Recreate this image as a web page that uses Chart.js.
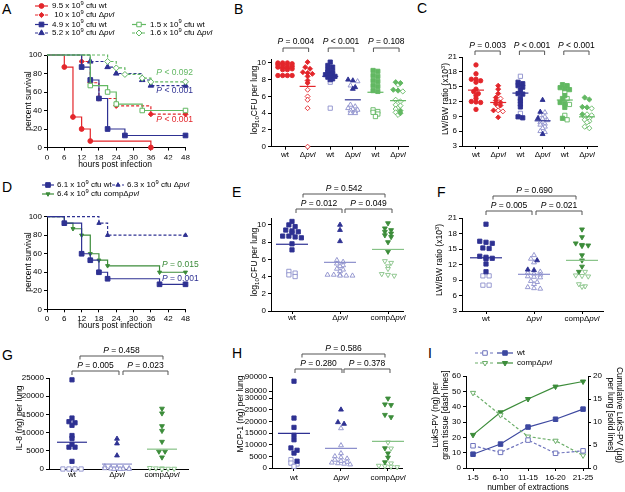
<!DOCTYPE html>
<html><head><meta charset="utf-8">
<script src="https://cdn.jsdelivr.net/npm/chart.js@4"></script>
<style>
body{margin:0;width:625px;height:492px;background:#fff;position:relative;overflow:hidden;font-family:'Liberation Sans',Arial,sans-serif}
canvas{position:absolute;left:0;top:0}
.lbl{position:absolute;font-size:14px;line-height:14px;color:#000}
</style></head><body>
<div class="lbl" style="left:2px;top:2px">A</div>
<div class="lbl" style="left:234px;top:2px">B</div>
<div class="lbl" style="left:417px;top:1px">C</div>
<div class="lbl" style="left:2px;top:180px">D</div>
<div class="lbl" style="left:232px;top:185px">E</div>
<div class="lbl" style="left:437px;top:185px">F</div>
<div class="lbl" style="left:2px;top:348px">G</div>
<div class="lbl" style="left:232px;top:346px">H</div>
<div class="lbl" style="left:428px;top:346px">I</div>
<canvas id="cA" width="625" height="492"></canvas>
<canvas id="cB" width="625" height="492"></canvas>
<canvas id="cC" width="625" height="492"></canvas>
<canvas id="cD" width="625" height="492"></canvas>
<canvas id="cE" width="625" height="492"></canvas>
<canvas id="cF" width="625" height="492"></canvas>
<canvas id="cG" width="625" height="492"></canvas>
<canvas id="cH" width="625" height="492"></canvas>
<canvas id="cI" width="625" height="492"></canvas>
<script>
// ---------------- DATA ----------------
// Panel A: Kaplan-Meier (hours, percent survival)
const A_wt95_t = [0, 6, 9, 12, 15, 36];
const A_wt95_s = [100, 87, 33, 20, 7, 0];
const A_pvl10_t = [0, 12, 15, 18, 24, 36, 48];
const A_pvl10_s = [100, 93, 70, 53, 45, 36, 36];
const A_wt49_t = [0, 12, 15, 18, 21, 27, 48];
const A_wt49_s = [100, 87, 73, 53, 20, 13, 13];
const A_pvl52_t = [0, 15, 21, 24, 33, 36, 48];
const A_pvl52_s = [100, 93, 87, 80, 73, 67, 67];
const A_wt15_t = [0, 15, 21, 24, 33, 48];
const A_wt15_s = [100, 67, 60, 47, 40, 40];
const A_pvl16_t = [0, 21, 24, 27, 33, 36, 48];
const A_pvl16_s = [100, 93, 86, 79, 75, 71, 71];
const A_legend = ["9.5 x 10^{9} cfu wt", " 10 x 10^{9} cfu Δ*pvl*", "4.9 x 10^{9} cfu wt", "5.2 x 10^{9} cfu Δ*pvl*", "1.5 x 10^{9} cfu wt", "1.6 x 10^{9} cfu Δ*pvl*"];
const A_pvals = ["*P* < 0.092", "*P* < 0.001", "*P* < 0.001"];

// Panel B: log10 CFU per lung
const B_cats = ["wt", "Δ*pvl*", "wt", "Δ*pvl*", "wt", "Δ*pvl*"];
const B_red_wt = [10.0, 10.0, 10.0, 9.9, 9.8, 9.8, 9.7, 9.6, 9.5, 9.5, 9.4, 9.3, 9.2, 9.2, 8.5, 8.5, 8.5, 8.5];
const B_red_pvl = [10.1, 9.5, 9.3, 8.9, 8.8, 8.7, 8.4, 7.9, 7.6];
const B_red_pvl_open = [6.8, 6.0, 5.6, 4.6, 0.0];
const B_blue_wt = [10.1, 9.7, 9.5, 9.2, 9.0, 8.9, 8.7, 8.6, 8.5, 8.4, 8.3, 8.1, 8.0];
const B_blue_wt_open = [7.7, 4.6];
const B_blue_pvl = [8.0, 7.9, 7.1, 6.9];
const B_blue_pvl_open = [7.8, 7.3, 5.0, 4.8, 4.6, 4.5, 4.4, 4.3, 4.2, 4.0, 4.0];
const B_green_wt = [9.1, 9.0, 8.5, 8.4, 7.9, 7.8, 7.3, 7.2, 6.7, 6.6];
const B_green_wt_open = [4.4, 4.2, 4.1, 3.9, 3.6];
const B_green_pvl = [7.7, 7.6, 6.8, 6.7, 4.3, 4.0];
const B_green_pvl_open = [7.4, 6.6, 5.6, 5.4, 5.0, 4.9, 4.5, 4.1, 3.8];
const B_means = [9.4, 7.2, 8.4, 5.6, 6.5, 5.5];
const B_pvals = ["*P* = 0.004", "*P* < 0.001", "*P* = 0.108"];

// Panel C: LW/BW ratio
const C_red_wt = [19.4, 17.6, 16.5, 16.5, 16.2, 15.9, 14.5, 14.0, 13.6, 13.2, 12.6, 12.0, 11.8, 11.9, 10.4];
const C_red_pvl = [15.2, 14.5, 13.6, 12.8, 12.2, 11.8, 11.5, 11.2, 10.2, 8.8];
const C_red_pvl_open = [12.6, 11.0, 10.2, 10.0];
const C_blue_wt = [15.9, 15.6, 15.2, 14.9, 14.3, 13.6, 13.5, 12.6, 12.1, 11.5, 10.9, 8.9, 8.7];
const C_blue_wt_open = [17.1, 9.6];
const C_blue_pvl = [12.3, 9.9, 8.6, 5.4];
const C_blue_pvl_open = [9.8, 9.2, 8.9, 8.5, 8.2, 7.8, 7.5, 7.3, 6.9, 6.6, 6.0, 5.8];
const C_green_wt = [15.4, 15.2, 14.8, 14.6, 14.4, 13.2, 12.6, 11.8, 11.6, 10.8, 8.6];
const C_green_wt_open = [14.0, 12.6, 11.4, 9.2, 8.3];
const C_green_pvl = [12.8, 12.4, 10.9, 10.8, 9.4];
const C_green_pvl_open = [10.6, 9.4, 9.2, 8.9, 8.6, 8.3, 8.0, 7.8, 6.9, 6.6];
const C_means = [14.3, 11.8, 13.7, 8.1, 12.3, 8.9];
const C_pvals = ["*P* = 0.003", "*P* < 0.001", "*P* < 0.001"];

// Panel D: Kaplan-Meier
const D_wt_t = [0, 6, 12, 15, 18, 21, 39, 48];
const D_wt_s = [100, 93, 60, 53, 40, 33, 27, 27];
const D_pvl_t = [0, 18, 21, 48];
const D_pvl_s = [100, 93, 80, 80];
const D_comp_t = [0, 6, 9, 12, 15, 18, 21, 39, 48];
const D_comp_s = [100, 93, 87, 80, 60, 53, 47, 40, 40];
const D_legend = ["6.1 x 10^{9} cfu wt", "6.3 x 10^{9} cfu Δ*pvl*", "6.4 x 10^{9} cfu compΔ*pvl*"];
const D_pvals = ["*P* = 0.015", "*P* = 0.001"];

// Panels E-H: three groups
const EH_cats = ["wt", "Δ*pvl*", "compΔ*pvl*"];
const E_wt = [10.4, 10.0, 9.8, 9.4, 9.3, 9.2, 9.1, 8.7, 8.7, 8.6, 8.5, 7.8, 7.1];
const E_wt_open = [4.6, 4.4, 4.2, 4.0];
const E_pvl = [10.0, 9.4, 8.1];
const E_pvl_open = [5.9, 5.7, 5.5, 5.3, 5.2, 4.9, 4.8, 4.6, 4.2, 4.2, 4.2, 4.1, 4.1, 4.1];
const E_comp = [10.2, 9.6, 9.4, 9.2, 9.0, 8.8, 8.6, 8.0, 6.9];
const E_comp_open = [5.8, 5.6, 5.2, 4.9, 4.3, 4.2, 4.1];
const E_means = [7.75, 5.65, 7.15];
const E_pvals = ["*P* = 0.542", "*P* = 0.012", "*P* = 0.049"];

const F_wt = [19.8, 16.5, 16.3, 16.1, 15.2, 15.1, 13.6, 13.4, 13.2, 13.1, 12.1, 10.6];
const F_wt_open = [9.8, 9.8, 8.0, 8.0];
const F_pvl = [12.8, 11.0, 10.9];
const F_pvl_open = [13.8, 13.1, 12.4, 10.6, 10.4, 10.2, 10.0, 9.7, 9.6, 9.5, 8.8, 8.6, 8.2, 7.6, 7.4, 7.3];
const F_comp = [18.8, 17.3, 16.1, 15.8, 15.7, 15.6, 13.8, 12.8, 11.6, 10.6];
const F_comp_open = [10.6, 9.9, 9.8, 9.7, 8.2, 7.8, 7.7];
const F_means = [13.3, 10.1, 12.8];
const F_pvals = ["*P* = 0.690", "*P* = 0.005", "*P* = 0.021"];

const G_wt = [24500, 14000, 13000, 12700, 12000, 9200, 8400, 6800, 6000, 6000, 2100];
const G_wt_open = [0, 0, 0, 0];
const G_pvl = [8300, 7000, 3700];
const G_pvl_open = [700, 500, 400, 300, 200, 200, 100, 100, 0, 0, 0, 0];
const G_comp = [16600, 15300, 11800, 10500, 7500, 4800, 4800, 3200];
const G_comp_open = [300, 200, 200, 100, 100, 0];
const G_means = [7350, 1350, 5450];
const G_pvals = ["*P* = 0.458", "*P* = 0.005", "*P* = 0.023"];

const H_wt = [87000, 21400, 17400, 14000, 12100, 8600, 7600, 6400, 2900];
const H_wt_open = [3600, 2100, 1700, 700];
const H_pvl = [25000, 19600, 18900];
const H_pvl_open = [17000, 9700, 6300, 5000, 4500, 4000, 3500, 3000, 2600, 2300, 2000, 1800, 1500];
const H_comp = [29800, 27300, 27000, 22800, 21800, 8500, 6300, 4500, 2500];
const H_comp_open = [11000, 8400, 2000, 1000, 800, 600, 400];
const H_means = [14850, 8450, 11400];
const H_pvals = ["*P* = 0.586", "*P* = 0.280", "*P* = 0.378"];
const H_upperTicks = [80000, 90000];

// Panel I
const I_labels = ["1-5", "6-10", "11-15", "16-20", "21-25"];
const I_wt_gram = [14.5, 10.2, 18.2, 9.6, 11.2];
const I_comp_gram = [49, 34.5, 20.5, 17.8, 8.2];
const I_wt_cum = [3.0, 5.2, 8.9, 10.6, 12.8];
const I_comp_cum = [7.2, 12.1, 15.0, 17.7, 18.8];
const I_legend = ["wt", "compΔ*pvl*"];

// ---------------- HELPERS ----------------
const FF = "'Liberation Sans', Arial, Helvetica, sans-serif";
const FT = 8, FL = 8, FTT = 8.5, FP = 8.5, FC = 8;
Chart.defaults.font.family = FF;
Chart.defaults.font.size = FT;
Chart.defaults.color = '#000';
const W = 625, H = 492, YW = 28, XH = 12;
const RED = '#e3262b', BLUE = '#2e3192', LBLUE = '#8c8fcc', GREENL = '#62b862', GREEN = '#3c8c3a', LGREEN = '#86c286';

function fontStr(size, it){ return (it ? 'italic ' : '') + size + 'px ' + FF; }
function parseRich(str){
  const parts = []; let i = 0, buf = '', it = false;
  const flush = () => { if (buf) { parts.push({t: buf, i: it}); buf = ''; } };
  while (i < str.length) {
    const c = str[i];
    if (c === '*') { flush(); it = !it; i++; }
    else if ((c === '_' || c === '^') && str[i+1] === '{') {
      flush(); const j = str.indexOf('}', i);
      parts.push({t: str.slice(i+2, j), i: it, s: c === '_' ? 'sub' : 'sup'}); i = j + 1;
    } else { buf += c; i++; }
  }
  flush(); return parts;
}
function drawRich(ctx, str, x, y, size, color, align, rot){
  const parts = parseRich(str);
  ctx.save(); ctx.translate(x, y); if (rot) ctx.rotate(rot);
  let w = 0;
  parts.forEach(p => { ctx.font = fontStr(p.s ? size*0.72 : size, p.i); w += ctx.measureText(p.t).width; });
  let cx = align === 'center' ? -w/2 : (align === 'right' ? -w : 0);
  ctx.fillStyle = color || '#000'; ctx.textBaseline = 'middle'; ctx.textAlign = 'left';
  parts.forEach(p => {
    const s = p.s ? size*0.72 : size; ctx.font = fontStr(s, p.i);
    const dy = p.s === 'sub' ? size*0.3 : (p.s === 'sup' ? -size*0.35 : 0);
    ctx.fillText(p.t, cx, dy); cx += ctx.measureText(p.t).width;
  });
  ctx.restore();
}
function marker(ctx, style, x, y, r, color, filled, rot){
  ctx.save(); ctx.translate(x, y); if (rot) ctx.rotate(rot*Math.PI/180);
  ctx.beginPath();
  if (style === 'circle') ctx.arc(0, 0, r, 0, Math.PI*2);
  else if (style === 'rect') { const s = r*Math.SQRT1_2; ctx.rect(-s, -s, 2*s, 2*s); }
  else if (style === 'rectRot') { ctx.moveTo(0,-r); ctx.lineTo(r,0); ctx.lineTo(0,r); ctx.lineTo(-r,0); ctx.closePath(); }
  else if (style === 'triangle') { let a = 0; for (let k=0;k<3;k++){ const px=Math.sin(a)*r, py=-Math.cos(a)*r; k?ctx.lineTo(px,py):ctx.moveTo(px,py); a += 2*Math.PI/3; } ctx.closePath(); }
  ctx.setLineDash([]);
  ctx.fillStyle = filled ? color : '#fff'; ctx.fill();
  ctx.strokeStyle = color; ctx.lineWidth = 1; ctx.stroke();
  ctx.restore();
}
function legendItem(ctx, x1, x2, y, color, dash, style, r, filled, rot){
  ctx.save(); ctx.strokeStyle = color; ctx.lineWidth = 1.2; ctx.setLineDash(dash ? [3,2] : []);
  ctx.beginPath(); ctx.moveTo(x1, y); ctx.lineTo(x2, y); ctx.stroke(); ctx.restore();
  marker(ctx, style, (x1+x2)/2, y, r, color, filled, rot);
}
function swarm(values, center, dx, thr, maxRow){
  const idx = values.map((v,i) => i).sort((a,b) => values[b] - values[a]);
  const xs = new Array(values.length);
  let row = [], start = null;
  const flush = () => { row.forEach((k,j) => { xs[k] = center + (j - (row.length-1)/2)*dx; }); row = []; };
  idx.forEach(k => {
    if (start === null || start - values[k] > thr || row.length >= maxRow) { flush(); start = values[k]; }
    row.push(k);
  });
  flush(); return xs;
}
function place(area, rightW){
  return {left: area.l - YW, top: area.t, right: W - area.r - (rightW || 0), bottom: H - area.b - XH};
}
function axisBase(){
  return {border: {color: '#000', width: 1},
    grid: {drawOnChartArea: false, color: '#000', tickLength: 3, lineWidth: 1}};
}
function yLin(min, max, step, extra){
  return Object.assign(axisBase(), {type: 'linear', min, max, position: 'left',
    ticks: {stepSize: step, padding: 2, autoSkip: false, includeBounds: false, font: {size: FT}, callback: v => String(v)},
    afterFit: s => { s.width = YW; }}, extra || {});
}
function xLin(min, max, vals, labelFn){
  return Object.assign(axisBase(), {type: 'linear', min, max,
    afterBuildTicks: s => { s.ticks = vals.map(v => ({value: v})); },
    ticks: {display: !!labelFn, padding: 2, autoSkip: false, maxRotation: 0, font: {size: FT}, callback: labelFn || (v => '')},
    afterFit: s => { s.height = XH; }});
}
function baseOptions(area, scales, rightW){
  return {responsive: false, animation: false, events: [], devicePixelRatio: 1,
    layout: {padding: place(area, rightW)},
    plugins: {legend: {display: false}, tooltip: {enabled: false}, title: {display: false}},
    scales};
}
function kmSet(t, s, color, dash, style, r, filled, rot){
  return {type: 'line', data: t.map((x,i) => ({x, y: s[i]})), borderColor: color, borderWidth: 1.2,
    borderDash: dash ? [3,2] : [], stepped: true, fill: false, clip: false, tension: 0,
    pointStyle: style, pointRadius: t.map((_,i) => i === 0 ? 0 : r), pointRotation: rot || 0,
    pointBackgroundColor: filled ? color : '#fff', pointBorderColor: color, pointBorderWidth: 1};
}
function groupSets(cx, g, sp){
  const vals = g.filled.concat(g.open || []);
  const xs = swarm(vals, cx, sp.dx, sp.thr, sp.maxRow);
  const nF = g.filled.length;
  const mk = (pts, filled, axis) => ({type: 'scatter', data: pts, yAxisID: axis, clip: false,
    pointStyle: filled ? g.style : (g.ostyle || g.style), pointRadius: filled ? g.r : (g.or || g.r),
    pointRotation: g.rot || 0, pointBorderWidth: 0.9,
    pointBackgroundColor: filled ? g.color : '#fff', pointBorderColor: filled ? g.color : (g.ocolor || g.color)});
  const out = [];
  const split = (arr, filled) => {
    const lo = arr.filter(p => !(sp.split && p.y > sp.split));
    const hi = arr.filter(p => sp.split && p.y > sp.split);
    if (lo.length) out.push(mk(lo, filled, 'y'));
    if (hi.length) out.push(mk(hi, filled, 'y2'));
  };
  const pts = vals.map((v,i) => ({x: xs[i], y: v}));
  split(pts.slice(0, nF), true);
  split(pts.slice(nF), false);
  return out;
}
function drawBracket(ctx, xs, b){
  const x1 = xs.getPixelForValue(b.a) + b.da, x2 = xs.getPixelForValue(b.b) + b.db;
  ctx.save(); ctx.strokeStyle = '#555'; ctx.lineWidth = 1; ctx.setLineDash([]);
  ctx.beginPath(); ctx.moveTo(x1, b.tip); ctx.lineTo(x1, b.y); ctx.lineTo(x2, b.y); ctx.lineTo(x2, b.tip); ctx.stroke();
  ctx.restore();
  drawRich(ctx, b.text, (x1+x2)/2, b.ty, FP, '#000', 'center');
}
function makeDot(sp){
  const datasets = [];
  sp.groups.forEach((g,i) => datasets.push(...groupSets(i, g, sp)));
  const scales = {x: xLin(sp.xr[0], sp.xr[1], sp.groups.map((_,i) => i)), y: sp.y};
  if (sp.y2) scales.y2 = sp.y2;
  new Chart(document.getElementById(sp.id), {type: 'scatter', data: {datasets},
    options: baseOptions(sp.area, scales),
    plugins: [{id: 'deco', afterDraw(c){
      const ctx = c.ctx, xs = c.scales.x, ys = c.scales.y;
      sp.groups.forEach((g,i) => {
        const cx = xs.getPixelForValue(i), y = ys.getPixelForValue(sp.means[i]);
        ctx.save(); ctx.strokeStyle = g.mcolor || g.color; ctx.lineWidth = 1.2;
        ctx.beginPath(); ctx.moveTo(cx - sp.mhw, y); ctx.lineTo(cx + sp.mhw, y); ctx.stroke(); ctx.restore();
        drawRich(ctx, sp.cats[i], cx, sp.catY, FC, '#000', 'center');
      });
      sp.brackets.forEach(b => drawBracket(ctx, xs, b));
      drawRich(ctx, sp.yTitle, sp.yTitleX, sp.yTitleY, FTT, '#000', 'center', -Math.PI/2);
    }}]});
}

// ---------------- PANEL A ----------------
(function(){
  const area = {l: 47, t: 55, r: 185.5, b: 147.5};
  const ds = [
    kmSet(A_wt15_t, A_wt15_s, GREENL, false, 'rect', 3.2, false),
    kmSet(A_pvl16_t, A_pvl16_s, GREENL, true, 'rectRot', 3, false),
    kmSet(A_wt49_t, A_wt49_s, BLUE, false, 'rect', 3.3, true),
    kmSet(A_pvl52_t, A_pvl52_s, BLUE, true, 'triangle', 3.2, true),
    kmSet(A_pvl10_t, A_pvl10_s, RED, true, 'rectRot', 2.6, true),
    kmSet(A_wt95_t, A_wt95_s, RED, false, 'circle', 2.4, true)
  ];
  const scales = {x: xLin(0, 48, [0,6,12,18,24,30,36,42,48], v => String(v)), y: yLin(0, 100, 20)};
  new Chart(document.getElementById('cA'), {type: 'line', data: {datasets: ds}, options: baseOptions(area, scales),
    plugins: [{id: 'deco', afterDraw(c){
      const ctx = c.ctx;
      const L = [[35,48,6,RED,false,'circle',2.4,true,0],[35,48,15,RED,true,'rectRot',2.6,true,0],
                 [35,48,24.5,BLUE,false,'rect',3.3,true,0],[35,48,33,BLUE,true,'triangle',3.2,true,0],
                 [132,146,24.5,GREENL,false,'rect',3.2,false,0],[132,146,33,GREENL,true,'rectRot',3,false,0]];
      L.forEach((it,k) => {
        legendItem(ctx, it[0], it[1], it[2], it[3], it[4], it[5], it[6], it[7], it[8]);
        drawRich(ctx, A_legend[k], it[1] + 4, it[2], FL, '#000', 'left');
      });
      drawRich(ctx, A_pvals[0], 193, 73, FP, GREENL, 'right');
      drawRich(ctx, A_pvals[1], 193, 91, FP, BLUE, 'right');
      drawRich(ctx, A_pvals[2], 193, 120, FP, RED, 'right');
      drawRich(ctx, 'percent survival', 29, 101, FTT, '#000', 'center', -Math.PI/2);
      drawRich(ctx, 'hours post infection', 115, 165, FTT, '#000', 'center');
    }}]});
})();

// ---------------- PANEL D ----------------
(function(){
  const area = {l: 47, t: 216.7, r: 185.5, b: 309.3};
  const ds = [
    kmSet(D_pvl_t, D_pvl_s, BLUE, true, 'triangle', 2.4, true),
    kmSet(D_wt_t, D_wt_s, BLUE, false, 'rect', 3.3, true),
    kmSet(D_comp_t, D_comp_s, GREEN, false, 'triangle', 2.3, true, 180)
  ];
  const scales = {x: xLin(0, 48, [0,6,12,18,24,30,36,42,48], v => String(v)), y: yLin(0, 100, 20)};
  new Chart(document.getElementById('cD'), {type: 'line', data: {datasets: ds}, options: baseOptions(area, scales),
    plugins: [{id: 'deco', afterDraw(c){
      const ctx = c.ctx;
      legendItem(ctx, 42, 54, 185, BLUE, false, 'rect', 3.3, true, 0);
      drawRich(ctx, D_legend[0], 57, 185, FL, '#000', 'left');
      legendItem(ctx, 112, 124, 185, BLUE, true, 'triangle', 2.4, true, 0);
      drawRich(ctx, D_legend[1], 127, 185, FL, '#000', 'left');
      legendItem(ctx, 42, 54, 194, GREEN, false, 'triangle', 2.3, true, 180);
      drawRich(ctx, D_legend[2], 57, 194, FL, '#000', 'left');
      drawRich(ctx, D_pvals[0], 162, 265, FP, GREEN, 'left');
      drawRich(ctx, D_pvals[1], 162, 279, FP, BLUE, 'left');
      drawRich(ctx, 'percent survival', 29, 262, FTT, '#000', 'center', -Math.PI/2);
      drawRich(ctx, 'hours post infection', 115, 326, FTT, '#000', 'center');
    }}]});
})();

// ---------------- PANEL B ----------------
makeDot({id: 'cB', area: {l: 271, t: 59.6, r: 408, b: 146.7}, xr: [-0.62, 5.44],
  y: yLin(0, 10.4, 2), dx: 0.21, thr: 0.25, maxRow: 4, mhw: 8, catY: 155, cats: B_cats, means: B_means,
  groups: [
    {filled: B_red_wt, open: [], color: RED, style: 'circle', r: 2.2},
    {filled: B_red_pvl, open: B_red_pvl_open, color: RED, style: 'rectRot', r: 2.5},
    {filled: B_blue_wt, open: B_blue_wt_open, color: BLUE, ocolor: LBLUE, style: 'rect', r: 3.0},
    {filled: B_blue_pvl, open: B_blue_pvl_open, color: BLUE, ocolor: LBLUE, style: 'triangle', r: 2.8, mcolor: BLUE},
    {filled: B_green_wt, open: B_green_wt_open, color: GREENL, style: 'rect', r: 3.0},
    {filled: B_green_pvl, open: B_green_pvl_open, color: GREENL, style: 'rectRot', r: 2.6}
  ],
  brackets: [0,1,2].map(k => ({a: 2*k, b: 2*k+1, da: -2, db: 1, y: 48, tip: 52, ty: 42, text: B_pvals[k]})),
  yTitle: 'log_{10}CFU per lung', yTitleX: 255, yTitleY: 100});

// ---------------- PANEL C ----------------
makeDot({id: 'cC', area: {l: 462, t: 57, r: 597, b: 146}, xr: [-0.63, 5.45],
  y: yLin(3, 21, 3), dx: 0.21, thr: 0.45, maxRow: 4, mhw: 8, catY: 155, cats: B_cats, means: C_means,
  groups: [
    {filled: C_red_wt, open: [], color: RED, style: 'circle', r: 2.2},
    {filled: C_red_pvl, open: C_red_pvl_open, color: RED, style: 'rectRot', r: 2.5},
    {filled: C_blue_wt, open: C_blue_wt_open, color: BLUE, ocolor: LBLUE, style: 'rect', r: 3.0},
    {filled: C_blue_pvl, open: C_blue_pvl_open, color: BLUE, ocolor: LBLUE, style: 'triangle', r: 2.8},
    {filled: C_green_wt, open: C_green_wt_open, color: GREENL, style: 'rect', r: 3.0},
    {filled: C_green_pvl, open: C_green_pvl_open, color: GREENL, style: 'rectRot', r: 2.6}
  ],
  brackets: [0,1,2].map(k => ({a: 2*k, b: 2*k+1, da: -1, db: 2, y: 51, tip: 55, ty: 46, text: C_pvals[k]})),
  yTitle: 'LW/BW ratio (x10^{3})', yTitleX: 446, yTitleY: 99});

// ---------------- PANELS E-H ----------------
function ehGroups(wt, wto, pvl, pvlo, comp, compo){
  return [
    {filled: wt, open: wto, color: BLUE, ocolor: LBLUE, style: 'rect', r: 3.0, mcolor: BLUE},
    {filled: pvl, open: pvlo, color: BLUE, ocolor: LBLUE, style: 'triangle', r: 2.8, mcolor: LBLUE},
    {filled: comp, open: compo, color: GREEN, ocolor: LGREEN, style: 'triangle', r: 2.8, rot: 180, mcolor: LGREEN}
  ];
}
function ehBrackets(p, top, low){
  return [
    {a: 0, b: 2, da: top.da, db: top.db, y: top.y, tip: top.y + 3.5, ty: top.y - 5, text: p[0]},
    {a: 0, b: 1, da: low.da1, db: low.db1, y: low.y, tip: low.y + 4, ty: low.y - 5.5, text: p[1]},
    {a: 1, b: 2, da: low.da2, db: low.db2, y: low.y, tip: low.y + 4, ty: low.y - 5.5, text: p[2]}
  ];
}
makeDot({id: 'cE', area: {l: 271, t: 218, r: 403, b: 311}, xr: [-0.4375, 2.3125],
  y: yLin(0, 10.8, 2), dx: 0.13, thr: 0.25, maxRow: 5, mhw: 16, catY: 318, cats: EH_cats, means: E_means,
  groups: ehGroups(E_wt, E_wt_open, E_pvl, E_pvl_open, E_comp, E_comp_open),
  brackets: ehBrackets(E_pvals, {da: 11, db: -3, y: 194}, {da1: 4, db1: 2, da2: 5, db2: 4, y: 209}),
  yTitle: 'log_{10}CFU per lung', yTitleX: 255, yTitleY: 262});

makeDot({id: 'cF', area: {l: 462, t: 218, r: 603, b: 311}, xr: [-0.5, 2.4375],
  y: yLin(3, 21, 3), dx: 0.13, thr: 0.45, maxRow: 5, mhw: 16, catY: 319, cats: EH_cats, means: F_means,
  groups: ehGroups(F_wt, F_wt_open, F_pvl, F_pvl_open, F_comp, F_comp_open),
  brackets: ehBrackets(F_pvals, {da: 7, db: -6, y: 196}, {da1: 0, db1: -2, da2: 2, db2: 0, y: 211}),
  yTitle: 'LW/BW ratio (x10^{3})', yTitleX: 440, yTitleY: 260});

makeDot({id: 'cG', area: {l: 49, t: 378, r: 188, b: 469}, xr: [-0.511, 2.578],
  y: yLin(0, 25000, 5000), dx: 0.135, thr: 700, maxRow: 5, mhw: 15, catY: 475, cats: EH_cats, means: G_means,
  groups: ehGroups(G_wt, G_wt_open, G_pvl, G_pvl_open, G_comp, G_comp_open),
  brackets: ehBrackets(G_pvals, {da: 8, db: 1, y: 356}, {da1: 0, db1: 2, da2: 6, db2: 6, y: 371}),
  yTitle: 'IL-8 (ng) per lung', yTitleX: 20, yTitleY: 418});

makeDot({id: 'cH', area: {l: 272, t: 377, r: 402, b: 468}, xr: [-0.468, 2.298], split: 30000,
  y: yLin(0, 30000, 5000, {stack: 'brk', stackWeight: 70}),
  y2: yLin(75000, 90000, 10000, {stack: 'brk', stackWeight: 21,
        afterBuildTicks: s => { s.ticks = H_upperTicks.map(v => ({value: v})); }}),
  dx: 0.13, thr: 1000, maxRow: 5, mhw: 16, catY: 478, cats: EH_cats, means: H_means,
  groups: ehGroups(H_wt, H_wt_open, H_pvl, H_pvl_open, H_comp, H_comp_open),
  brackets: ehBrackets(H_pvals, {da: 8, db: -3, y: 354}, {da1: 1, db1: 1, da2: 3, db2: 2, y: 369}),
  yTitle: 'MCP-1 (ng) per lung', yTitleX: 241, yTitleY: 414});

// ---------------- PANEL I ----------------
(function(){
  const area = {l: 466, t: 376, r: 588, b: 468};
  const RW = 16;
  const xy = arr => arr.map((v,i) => ({x: i, y: v}));
  const ln = (data, color, dash, style, filled, axis, rot) => ({type: 'line', data: xy(data), yAxisID: axis,
    borderColor: color, borderWidth: 1.2, borderDash: dash ? [3,2] : [], fill: false, clip: false, tension: 0,
    pointStyle: style, pointRadius: style === 'rect' ? 3.2 : 3.0, pointRotation: rot || 0, pointBorderWidth: 1,
    pointBackgroundColor: filled ? color : '#fff', pointBorderColor: color});
  const IB = '#3d48a0', IBL = '#6f74bd', IG = GREEN, IGL = '#6cae6a';
  const ds = [
    ln(I_wt_gram, IBL, true, 'rect', false, 'y'),
    ln(I_comp_gram, IGL, true, 'triangle', false, 'y', 180),
    ln(I_wt_cum, IB, false, 'rect', true, 'y2'),
    ln(I_comp_cum, IG, false, 'triangle', true, 'y2', 180)
  ];
  const scales = {
    x: xLin(-0.255, 4.18, [0,1,2,3,4], v => I_labels[v]),
    y: yLin(0, 60, 10),
    y2: Object.assign(yLin(0, 20, 5), {position: 'right', afterFit: s => { s.width = RW; }})
  };
  new Chart(document.getElementById('cI'), {type: 'line', data: {datasets: ds}, options: baseOptions(area, scales, RW),
    plugins: [{id: 'deco', afterDraw(c){
      const ctx = c.ctx;
      legendItem(ctx, 475, 495, 353, IBL, true, 'rect', 3.2, false, 0);
      legendItem(ctx, 497, 513, 353, IB, false, 'rect', 3.2, true, 0);
      drawRich(ctx, I_legend[0], 517, 353, FL, '#000', 'left');
      legendItem(ctx, 475, 495, 363, IGL, true, 'triangle', 3.0, false, 180);
      legendItem(ctx, 497, 513, 363, IG, false, 'triangle', 3.0, true, 180);
      drawRich(ctx, I_legend[1], 517, 363, FL, '#000', 'left');
      drawRich(ctx, 'LukS-PV (ng) per', 436, 415, FTT, '#000', 'center', -Math.PI/2);
      drawRich(ctx, 'gram tissue [dash lines]', 445.5, 415, FTT, '#000', 'center', -Math.PI/2);
      drawRich(ctx, 'Cumulative LukS-PV (μg)', 619, 415, FTT, '#000', 'center', Math.PI/2);
      drawRich(ctx, 'per lung [solid lines]', 610, 415, FTT, '#000', 'center', Math.PI/2);
      drawRich(ctx, 'number of extractions', 528, 488, FTT, '#000', 'center');
    }}]});
})();
</script>
</body></html>
